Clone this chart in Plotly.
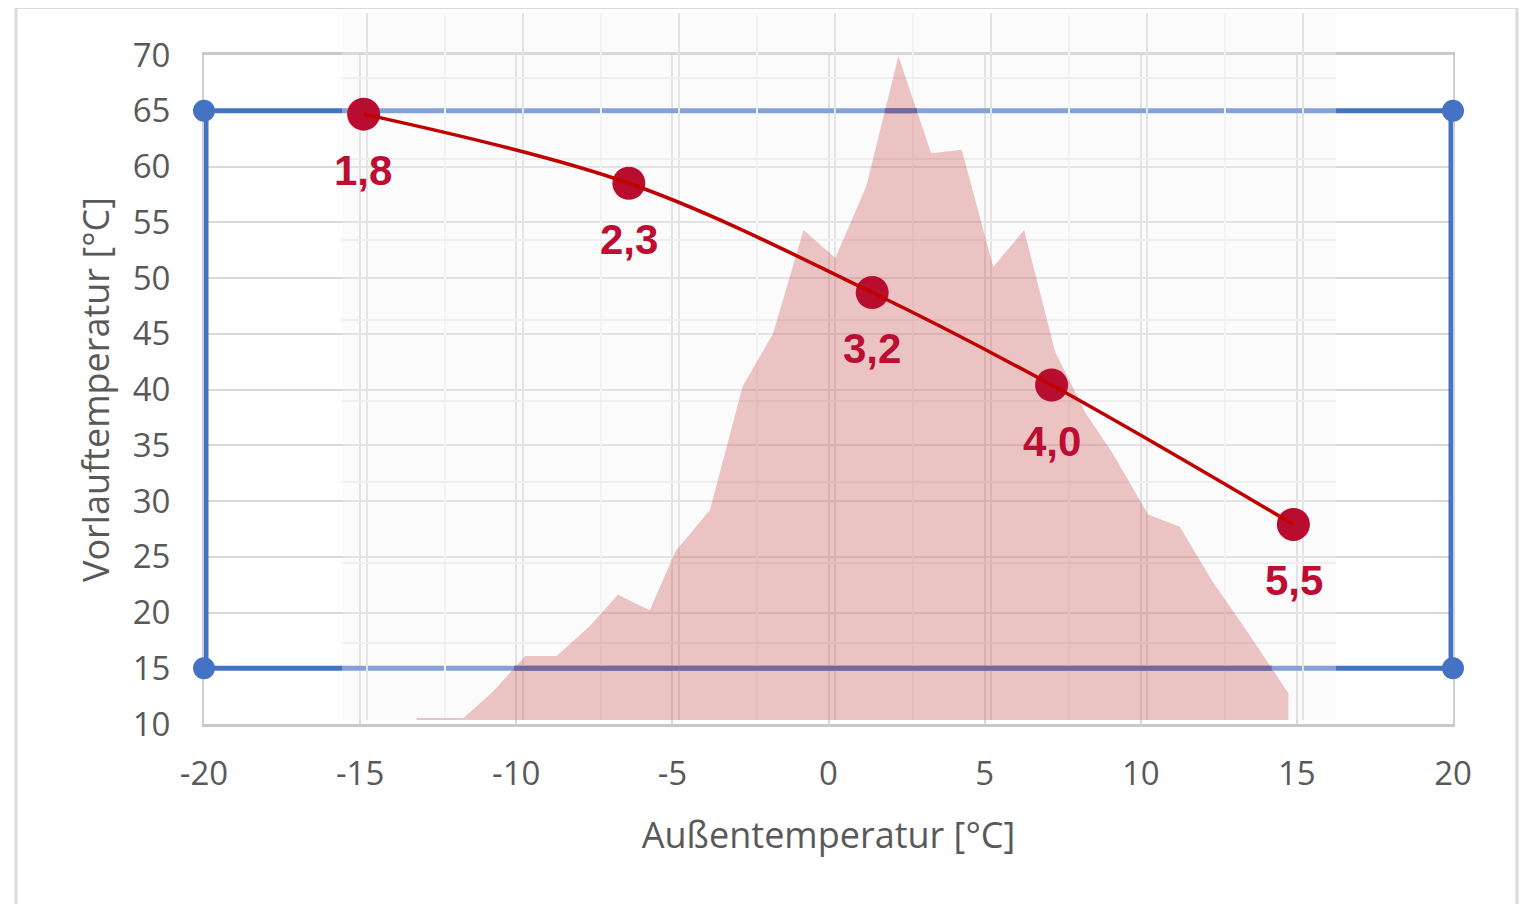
import plotly.graph_objects as go

# ---------------- data ----------------
# Heizkurve: Außentemperatur -> Vorlauftemperatur, labels = COP
curve_x = [-14.9, -6.4, 1.4, 7.15, 14.9]
curve_y = [64.7, 58.5, 48.7, 40.4, 27.9]
curve_labels = ["1,8", "2,3", "3,2", "4,0", "5,5"]

# Einsatzgrenzen (blue frame)
band_x = [-20, 20]
band_y = [15, 65]

# Häufigkeitsverteilung der Außentemperatur (red area, in chart units)
hist_x = [-13.2, -11.7, -10.76, -9.72, -8.71, -7.65, -6.75, -5.73, -4.9, -3.8,
          -2.75, -1.78, -0.8, 0.22, 1.22, 2.24, 3.29, 4.27, 5.28, 6.27,
          7.26, 8.24, 9.1, 10.24, 11.26, 12.28, 13.25, 14.74, 14.74]
hist_y = [10.55, 10.55, 12.9, 16.1, 16.1, 18.8, 21.6, 20.2, 25.5, 29.2,
          40.3, 45.0, 54.3, 51.8, 58.3, 69.9, 61.2, 61.5, 51.0, 54.3,
          43.4, 37.9, 34.3, 28.8, 27.7, 22.9, 19.0, 12.75, 10.4]

x_ticks = [-20, -15, -10, -5, 0, 5, 10, 15, 20]
x_tick_labels = ["-20", "-15", "-10", "-5", "0", "5", "10", "15", "20"]
y_ticks = [10, 15, 20, 25, 30, 35, 40, 45, 50, 55, 60, 65, 70]
y_tick_labels = [str(v) for v in y_ticks]

# ---------------- styling / layout constants ----------------
OFF = 8                      # page offset of the figure div (body margin)
W, H = 1527 - OFF, 904 - OFF
ML, MT = 204 - OFF, 13 - OFF
PW = 1249                    # plot width  (page px 204 .. 1453)
PH = 711                     # plot height (page px 13 .. 724)
MR, MB = W - ML - PW, H - MT - PH
BOTTOM = 724                 # page px of plot bottom


def px_x(p):   # page px -> paper x
    return (p - 204) / PW


def px_y(p):   # page px -> paper y
    return (BOTTOM - p) / PH


TICK_FONT = dict(family="Open Sans", size=33, color="#595959")
TITLE_FONT = dict(family="Open Sans", size=36, color="#595959")
LABEL_FONT = dict(family="Liberation Sans", size=42, color="#bd0d33")

BLUE = "#4472c4"
PURPLE = "#716a9f"
RED_LINE = "#c00000"
RED_MARK = "#b80d2f"

# inner (histogram) panel ranges, expressed in the main chart's units
inner_xrange = [-15.593, 16.266]
inner_yrange = [10.36, 73.77]


def overlap_segments(xs, ys, level):
    """x-intervals where the area lies above a horizontal level."""
    sx, sy = [], []
    start = None
    for i in range(len(xs) - 1):
        x0, y0, x1, y1 = xs[i], ys[i], xs[i + 1], ys[i + 1]
        if (y0 - level) * (y1 - level) < 0:
            xc = x0 + (level - y0) / (y1 - y0) * (x1 - x0)
            if y1 > level:
                start = xc
            elif start is not None:
                sx += [start, xc, None]
                sy += [level, level, None]
                start = None
    return sx, sy


fig = go.Figure()

# blue operating-limit frame (main subplot)
# vertical sides sit on the plot edge (half of the stroke is clipped) -> wider stroke
fig.add_trace(go.Scatter(
    x=[band_x[0], band_x[0], None, band_x[1], band_x[1]],
    y=[band_y[0], band_y[1], None, band_y[1], band_y[0]],
    mode="lines", line=dict(color=BLUE, width=9),
    hoverinfo="skip", xaxis="x", yaxis="y"))
fig.add_trace(go.Scatter(
    x=[band_x[0], band_x[1], None, band_x[0], band_x[1]],
    y=[band_y[1], band_y[1], None, band_y[0], band_y[0]],
    mode="lines+markers",
    line=dict(color=BLUE, width=5),
    marker=dict(color=BLUE, size=22),
    cliponaxis=False, hoverinfo="skip", xaxis="x", yaxis="y"))

# red histogram area (inner subplot)
fig.add_trace(go.Scatter(
    x=hist_x, y=hist_y, mode="lines", fill="tozeroy",
    fillcolor="rgba(187,27,27,0.25)", line=dict(width=0, color="rgba(0,0,0,0)"),
    hoverinfo="skip", xaxis="x2", yaxis="y2"))

# overlap of area and blue frame (darker tone)
ox, oy = [], []
for lvl in band_y:
    sx, sy = overlap_segments(hist_x, hist_y, lvl)
    ox += sx
    oy += sy
fig.add_trace(go.Scatter(
    x=ox, y=oy, mode="lines", line=dict(color=PURPLE, width=5),
    hoverinfo="skip", xaxis="x2", yaxis="y2"))

# heating curve: markers, then the line on top
fig.add_trace(go.Scatter(
    x=curve_x, y=curve_y, mode="markers",
    marker=dict(color=RED_MARK, size=33),
    hoverinfo="skip", xaxis="x2", yaxis="y2"))
fig.add_trace(go.Scatter(
    x=curve_x, y=curve_y, mode="lines",
    line=dict(color=RED_LINE, width=3.5, shape="spline"),
    hoverinfo="skip", xaxis="x2", yaxis="y2"))

for xv, yv, t in zip(curve_x, curve_y, curve_labels):
    fig.add_annotation(x=xv, y=yv, xref="x", yref="y", text="<b>%s</b>" % t,
                       showarrow=False, yshift=-56, font=LABEL_FONT,
                       xanchor="center", yanchor="middle")

main_ydom = [0, px_y(55)]

fig.update_layout(
    width=W, height=H,
    margin=dict(l=ML, r=MR, t=MT, b=MB, autoexpand=False),
    paper_bgcolor="white",
    plot_bgcolor="rgba(0,0,0,0)",
    showlegend=False,
    xaxis=dict(
        domain=[0, 1], range=[band_x[0], band_x[1]], automargin=False,
        layer="below traces",
        tickmode="array", tickvals=x_ticks, ticktext=x_tick_labels,
        tickfont=TICK_FONT, ticks="", ticklabelstandoff=19,
        showgrid=True, gridcolor="#d9d9d9", gridwidth=2,
        zeroline=False, showline=True, linecolor="#c9c9c9", linewidth=2.5,
        mirror=True,
        title=dict(text="Außentemperatur [°C]", font=TITLE_FONT, standoff=29),
    ),
    yaxis=dict(
        domain=main_ydom, range=[y_ticks[0], y_ticks[-1]], automargin=False,
        layer="below traces",
        tickmode="array", tickvals=y_ticks, ticktext=y_tick_labels,
        tickfont=TICK_FONT, ticks="", ticklabelstandoff=25,
        showgrid=True, gridcolor="#d9d9d9", gridwidth=2,
        zeroline=False, showline=True, linecolor="#d0d0d0", linewidth=2,
        mirror=True,
        title=dict(text="Vorlauftemperatur [°C]", font=TITLE_FONT, standoff=12),
    ),
    xaxis2=dict(
        domain=[px_x(342), px_x(1336)], range=inner_xrange,
        anchor="y2", showticklabels=False, ticks="", automargin=False,
        tick0=-14.79, dtick=5, showgrid=True, gridcolor="#e4e4e4", gridwidth=2,
        minor=dict(tick0=-14.79, dtick=2.5, showgrid=True,
                   gridcolor="#f3f3f3", gridwidth=1.5),
        zeroline=False, showline=False,
    ),
    yaxis2=dict(
        domain=[px_y(720), 1], range=inner_yrange,
        anchor="x2", showticklabels=False, ticks="", automargin=False,
        tick0=67.91, dtick=7.238, showgrid=True, gridcolor="#efefef", gridwidth=1.5,
        zeroline=False, showline=False,
    ),
    shapes=[
        # inner panel background (semi-transparent, lightens what lies below)
        dict(type="rect", xref="x2", yref="y2",
             x0=inner_xrange[0], x1=inner_xrange[1],
             y0=inner_yrange[0], y1=inner_yrange[1],
             fillcolor="rgba(244,244,244,0.37)", line=dict(width=0), layer="below"),
        # outer chart border
        dict(type="rect", xref="paper", yref="paper",
             x0=px_x(16), x1=px_x(1517), y0=px_y(915), y1=px_y(7.5),
             line=dict(color="#d9d9d9", width=3), fillcolor="rgba(0,0,0,0)",
             layer="above"),
    ],
)

fig.write_html("out.html")
